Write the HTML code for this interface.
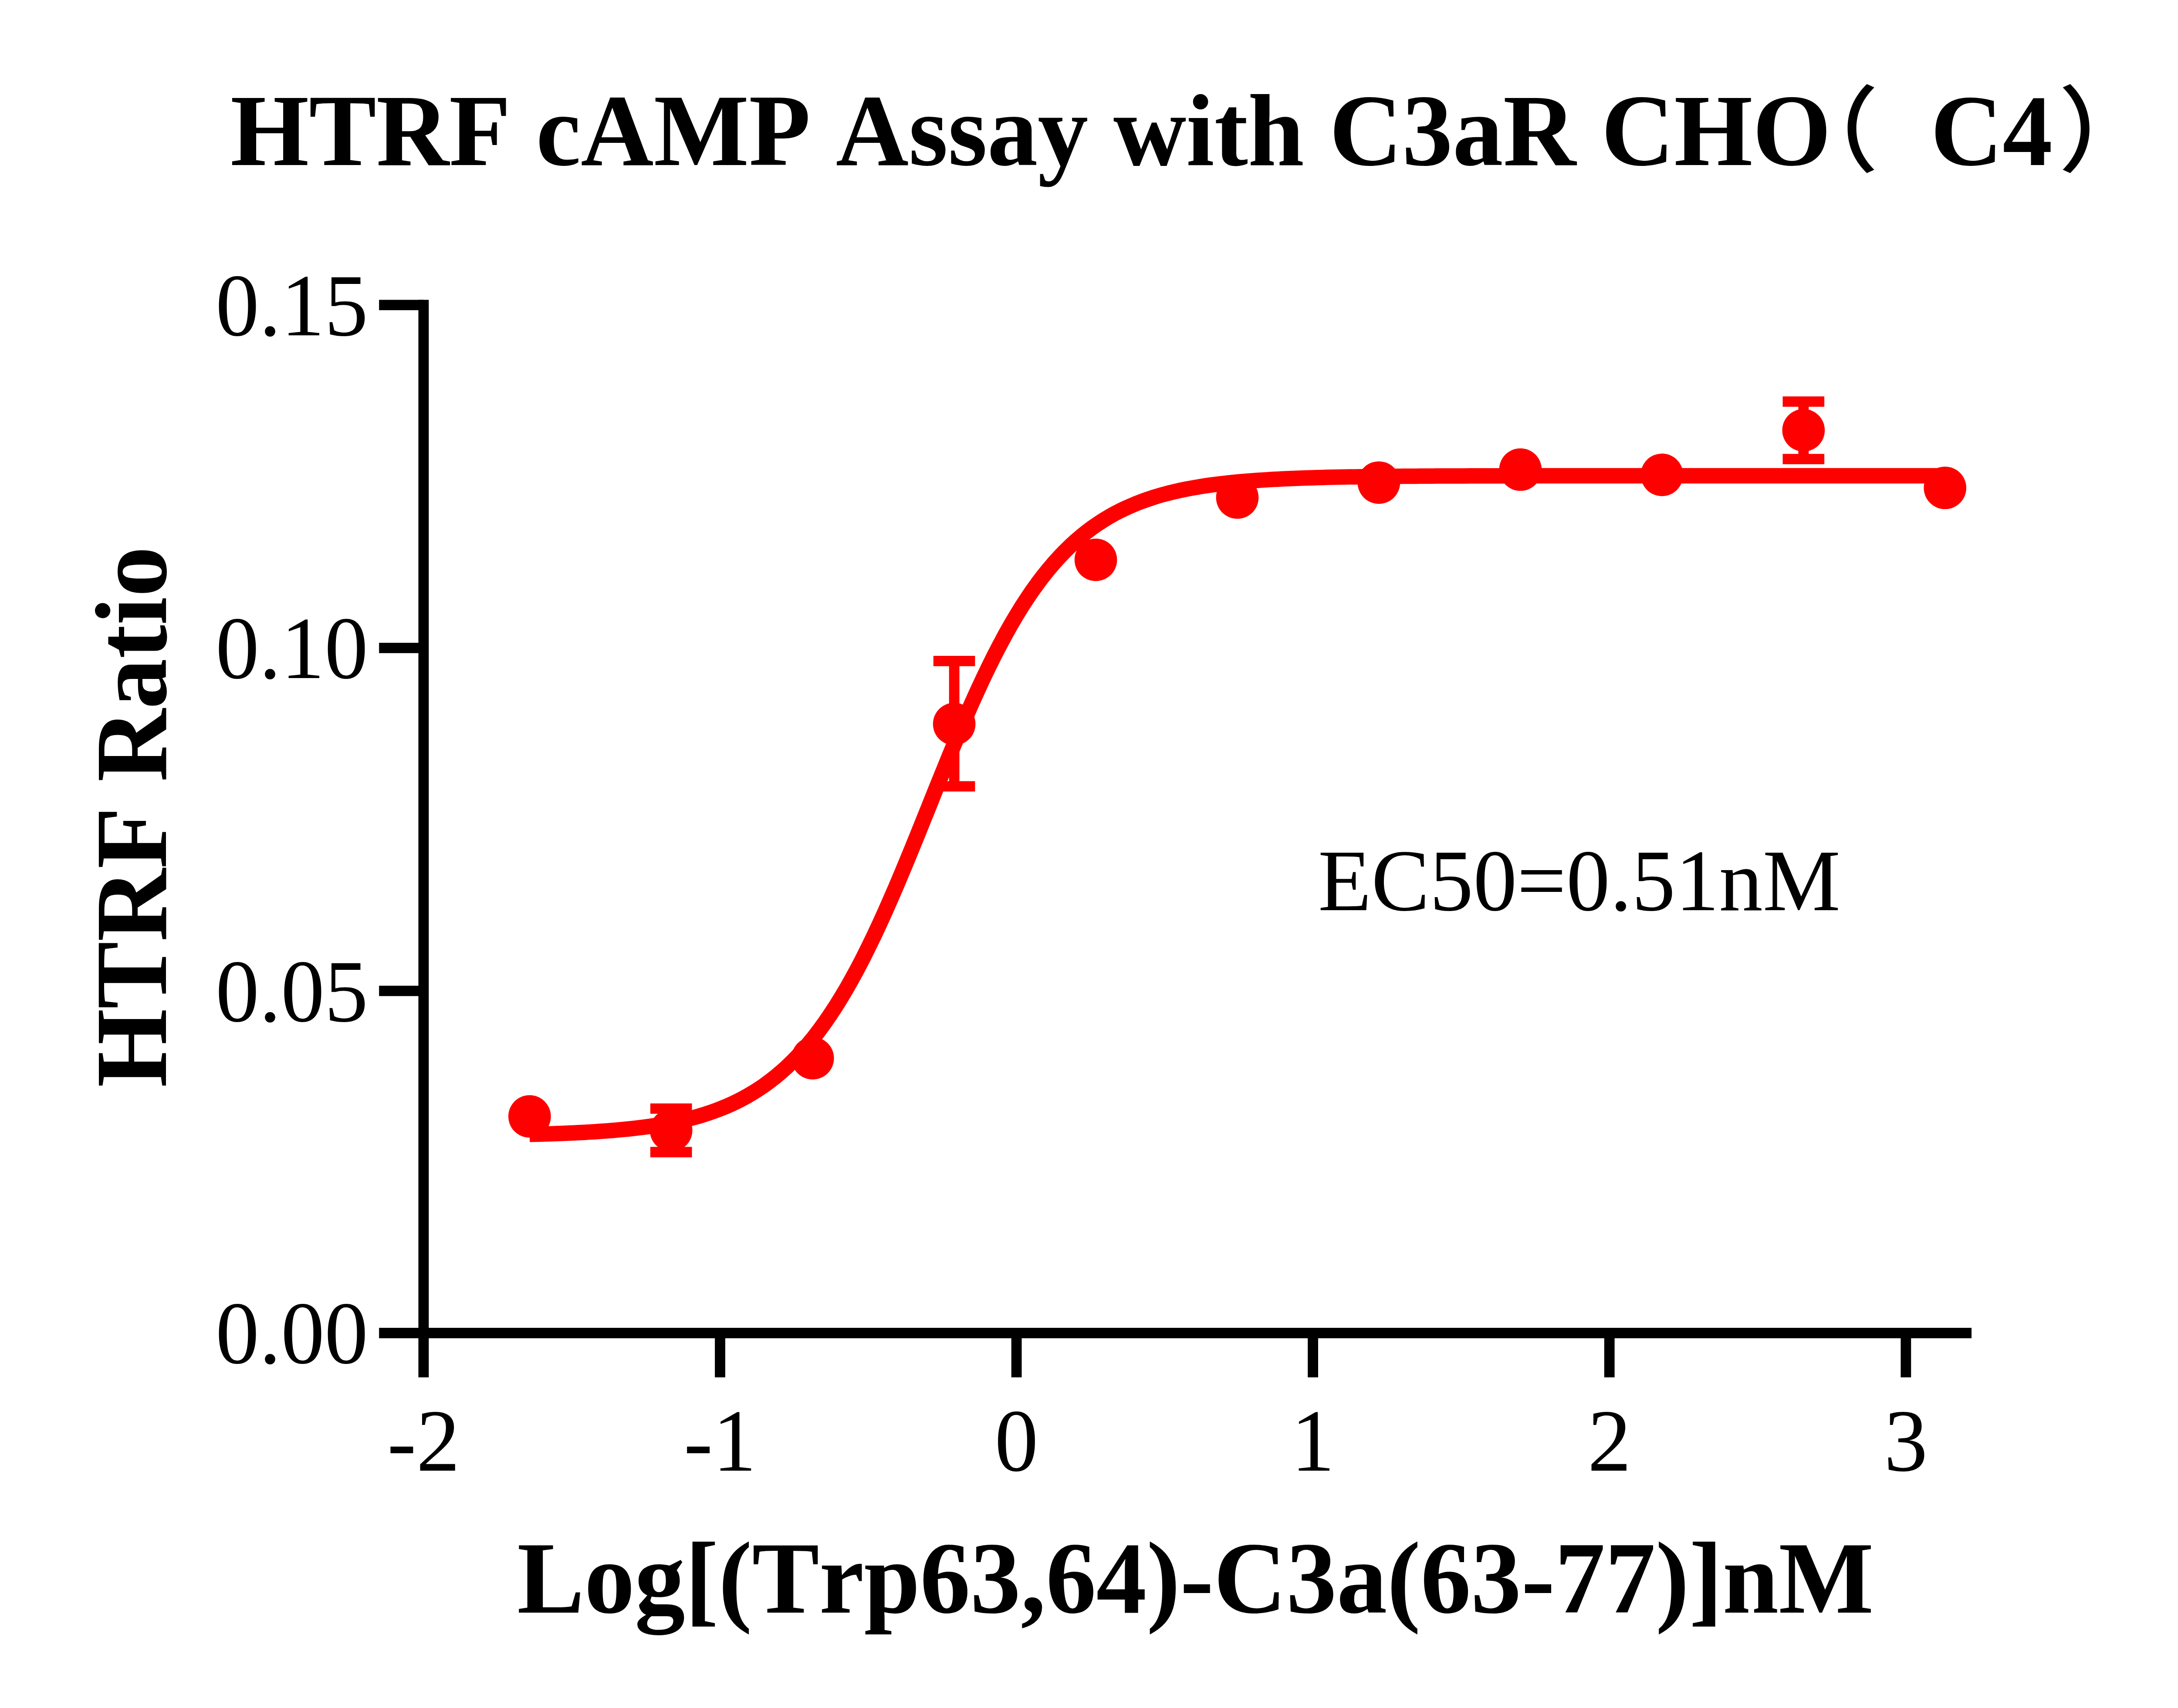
<!DOCTYPE html>
<html lang="en"><head><meta charset="utf-8"><title>HTRF cAMP Assay with C3aR CHO (C4)</title>
<style>html,body{margin:0;padding:0;background:#fff}body{width:5120px;height:3922px}svg{display:block}text{font-kerning:none;font-family:"Liberation Serif","Noto Serif CJK SC",serif;fill:#000}.b{font-weight:bold}.ax{stroke:#000;stroke-width:23.8;fill:none;stroke-linecap:butt}.r{stroke:#fe0000;fill:none;stroke-linecap:butt}</style></head><body>
<svg width="5120" height="3922" viewBox="0 0 5120 3922">
<rect width="5120" height="3922" fill="#fff"/>
<text class="b" transform="translate(529.0 378.9) scale(1 1.02)" font-size="231.7">HTRF cAMP Assay with C3aR CHO</text>
<text id="p1" transform="translate(4089.2 376.2) scale(1.045 1)" font-size="214" style="font-family:'Liberation Sans','Noto Sans CJK SC',sans-serif;font-weight:500">（</text>
<text class="b" transform="translate(4432.0 378.9) scale(1 1.02)" font-size="229">C4</text>
<text id="p2" transform="translate(4725.5 376.2) scale(1.045 1)" font-size="214" style="font-family:'Liberation Sans','Noto Sans CJK SC',sans-serif;font-weight:500">）</text>
<path class="ax" d="M870.2 3061.0H4526.0"/>
<path class="ax" d="M972.4 688.4V3162.7"/>
<path class="ax" d="M870.2 2275.3H972.4"/>
<path class="ax" d="M870.2 1487.9H972.4"/>
<path class="ax" d="M870.2 700.3H972.4"/>
<path class="ax" d="M1653.0 3061.0V3162.7"/>
<path class="ax" d="M2333.6 3061.0V3162.7"/>
<path class="ax" d="M3014.1 3061.0V3162.7"/>
<path class="ax" d="M3694.7 3061.0V3162.7"/>
<path class="ax" d="M4375.3 3061.0V3162.7"/>
<text text-anchor="end" transform="translate(845.0 3130.3) scale(1 1.022)" font-size="200">0.00</text>
<text text-anchor="end" transform="translate(845.0 2344.6) scale(1 1.022)" font-size="200">0.05</text>
<text text-anchor="end" transform="translate(845.0 1557.2) scale(1 1.022)" font-size="200">0.10</text>
<text text-anchor="end" transform="translate(845.0 769.6) scale(1 1.022)" font-size="200">0.15</text>
<text text-anchor="middle" transform="translate(972.4 3377.2) scale(1 1.022)" font-size="200">-2</text>
<text text-anchor="middle" transform="translate(1653.0 3377.2) scale(1 1.022)" font-size="200">-1</text>
<text text-anchor="middle" transform="translate(2333.6 3377.2) scale(1 1.022)" font-size="200">0</text>
<text text-anchor="middle" transform="translate(3014.1 3377.2) scale(1 1.022)" font-size="200">1</text>
<text text-anchor="middle" transform="translate(3694.7 3377.2) scale(1 1.022)" font-size="200">2</text>
<text text-anchor="middle" transform="translate(4375.3 3377.2) scale(1 1.022)" font-size="200">3</text>
<text class="b" transform="translate(1187.2 3703.3) scale(1 1.02)" font-size="231.2">Log[(Trp63,64)-C3a(63-77)]nM</text>
<text class="b" transform="translate(380.8 2496.8) rotate(-90) scale(1 1.02)" font-size="231.7">HTRF Ratio</text>
<text transform="translate(3025.9 2089.6) scale(1 1.009)" font-size="200.5">EC50=0.51nM</text>
<polyline class="r" stroke-width="35.5" stroke-linejoin="round" points="1215.8,2604.8 1228.3,2604.5 1240.9,2604.2 1253.4,2603.8 1266.0,2603.4 1278.5,2603.0 1291.1,2602.5 1303.6,2602.0 1316.2,2601.4 1328.7,2600.8 1341.3,2600.2 1353.8,2599.4 1366.4,2598.7 1378.9,2597.8 1391.4,2596.9 1404.0,2596.0 1416.5,2594.9 1429.1,2593.7 1441.6,2592.5 1454.2,2591.1 1466.7,2589.7 1479.3,2588.1 1491.8,2586.4 1504.4,2584.5 1516.9,2582.5 1529.4,2580.3 1542.0,2577.9 1554.5,2575.3 1567.1,2572.5 1579.6,2569.5 1592.2,2566.3 1604.7,2562.8 1617.3,2559.0 1629.8,2554.9 1642.4,2550.4 1654.9,2545.7 1667.5,2540.5 1680.0,2535.0 1692.5,2529.0 1705.1,2522.5 1717.6,2515.6 1730.2,2508.1 1742.7,2500.1 1755.3,2491.6 1767.8,2482.3 1780.4,2472.5 1792.9,2461.9 1805.5,2450.7 1818.0,2438.6 1830.6,2425.8 1843.1,2412.1 1855.6,2397.6 1868.2,2382.2 1880.7,2365.8 1893.3,2348.6 1905.8,2330.3 1918.4,2311.1 1930.9,2290.9 1943.5,2269.7 1956.0,2247.6 1968.6,2224.4 1981.1,2200.3 1993.6,2175.2 2006.2,2149.3 2018.7,2122.5 2031.3,2094.9 2043.8,2066.5 2056.4,2037.5 2068.9,2007.9 2081.5,1977.7 2094.0,1947.2 2106.6,1916.3 2119.1,1885.2 2131.7,1854.0 2144.2,1822.7 2156.7,1791.6 2169.3,1760.7 2181.8,1730.0 2194.4,1699.8 2206.9,1670.0 2219.5,1640.9 2232.0,1612.4 2244.6,1584.6 2257.1,1557.6 2269.7,1531.4 2282.2,1506.2 2294.8,1481.8 2307.3,1458.5 2319.8,1436.1 2332.4,1414.6 2344.9,1394.2 2357.5,1374.8 2370.0,1356.3 2382.6,1338.8 2395.1,1322.3 2407.7,1306.7 2420.2,1292.0 2432.8,1278.1 2445.3,1265.1 2457.8,1252.9 2470.4,1241.4 2482.9,1230.7 2495.5,1220.7 2508.0,1211.3 2520.6,1202.6 2533.1,1194.5 2545.7,1186.9 2558.2,1179.8 2570.8,1173.3 2583.3,1167.2 2595.9,1161.6 2608.4,1156.3 2620.9,1151.5 2633.5,1147.0 2646.0,1142.8 2658.6,1138.9 2671.1,1135.3 2683.7,1132.0 2696.2,1129.0 2708.8,1126.1 2721.3,1123.5 2733.9,1121.1 2746.4,1118.9 2759.0,1116.8 2771.5,1114.9 2784.0,1113.2 2796.6,1111.5 2809.1,1110.0 2821.7,1108.7 2834.2,1107.4 2846.8,1106.2 2859.3,1105.1 2871.9,1104.1 2884.4,1103.2 2897.0,1102.4 2909.5,1101.6 2922.0,1100.8 2934.6,1100.2 2947.1,1099.6 2959.7,1099.0 2972.2,1098.5 2984.8,1098.0 2997.3,1097.6 3009.9,1097.2 3022.4,1096.8 3035.0,1096.4 3047.5,1096.1 3060.1,1095.8 3072.6,1095.6 3085.1,1095.3 3097.7,1095.1 3110.2,1094.9 3122.8,1094.7 3135.3,1094.5 3147.9,1094.3 3160.4,1094.2 3173.0,1094.0 3185.5,1093.9 3198.1,1093.8 3210.6,1093.7 3223.2,1093.6 3235.7,1093.5 3248.2,1093.4 3260.8,1093.3 3273.3,1093.2 3285.9,1093.2 3298.4,1093.1 3311.0,1093.1 3323.5,1093.0 3336.1,1093.0 3348.6,1092.9 3361.2,1092.9 3373.7,1092.8 3386.2,1092.8 3398.8,1092.8 3411.3,1092.7 3423.9,1092.7 3436.4,1092.7 3449.0,1092.7 3461.5,1092.6 3474.1,1092.6 3486.6,1092.6 3499.2,1092.6 3511.7,1092.6 3524.3,1092.6 3536.8,1092.5 3549.3,1092.5 3561.9,1092.5 3574.4,1092.5 3587.0,1092.5 3599.5,1092.5 3612.1,1092.5 3624.6,1092.5 3637.2,1092.5 3649.7,1092.5 3662.3,1092.5 3674.8,1092.5 3687.4,1092.5 3699.9,1092.4 3712.4,1092.4 3725.0,1092.4 3737.5,1092.4 3750.1,1092.4 3762.6,1092.4 3775.2,1092.4 3787.7,1092.4 3800.3,1092.4 3812.8,1092.4 3825.4,1092.4 3837.9,1092.4 3850.4,1092.4 3863.0,1092.4 3875.5,1092.4 3888.1,1092.4 3900.6,1092.4 3913.2,1092.4 3925.7,1092.4 3938.3,1092.4 3950.8,1092.4 3963.4,1092.4 3975.9,1092.4 3988.5,1092.4 4001.0,1092.4 4013.5,1092.4 4026.1,1092.4 4038.6,1092.4 4051.2,1092.4 4063.7,1092.4 4076.3,1092.4 4088.8,1092.4 4101.4,1092.4 4113.9,1092.4 4126.5,1092.4 4139.0,1092.4 4151.6,1092.4 4164.1,1092.4 4176.6,1092.4 4189.2,1092.4 4201.7,1092.4 4214.3,1092.4 4226.8,1092.4 4239.4,1092.4 4251.9,1092.4 4264.5,1092.4 4277.0,1092.4 4289.6,1092.4 4302.1,1092.4 4314.6,1092.4 4327.2,1092.4 4339.7,1092.4 4352.3,1092.4 4364.8,1092.4 4377.4,1092.4 4389.9,1092.4 4402.5,1092.4 4415.0,1092.4 4427.6,1092.4 4440.1,1092.4 4452.7,1092.4 4465.2,1092.4"/>
<path class="r" stroke-width="23.8" d="M1540.7 2545.6V2645.5M1492.9 2545.6H1588.5M1492.9 2645.5H1588.5"/>
<path class="r" stroke-width="23.8" d="M2190.6 1517.8V1805.6M2142.8 1517.8H2238.4M2142.8 1805.6H2238.4"/>
<path class="r" stroke-width="23.8" d="M4140.3 922.2V1054.2M4092.5 922.2H4188.1M4092.5 1054.2H4188.1"/>
<circle cx="1215.8" cy="2563.5" r="48.8" fill="#fe0000"/>
<circle cx="1540.7" cy="2595.5" r="48.8" fill="#fe0000"/>
<circle cx="1865.7" cy="2430.0" r="48.8" fill="#fe0000"/>
<circle cx="2190.6" cy="1662.5" r="48.8" fill="#fe0000"/>
<circle cx="2515.6" cy="1285.5" r="48.8" fill="#fe0000"/>
<circle cx="2840.5" cy="1142.5" r="48.8" fill="#fe0000"/>
<circle cx="3165.4" cy="1108.2" r="48.8" fill="#fe0000"/>
<circle cx="3490.4" cy="1078.3" r="48.8" fill="#fe0000"/>
<circle cx="3815.3" cy="1090.4" r="48.8" fill="#fe0000"/>
<circle cx="4140.3" cy="988.0" r="48.8" fill="#fe0000"/>
<circle cx="4465.2" cy="1120.3" r="48.8" fill="#fe0000"/>
</svg></body></html>
